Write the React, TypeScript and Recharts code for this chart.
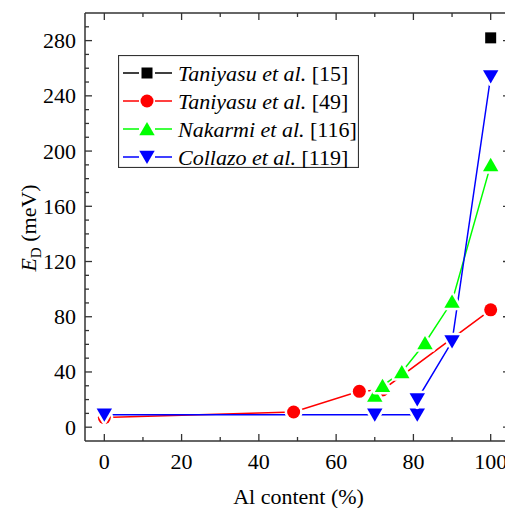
import React from 'react';
import { ComposedChart, Line, XAxis, YAxis, Legend } from 'recharts';

const taniyasu15X = [100];
const taniyasu15Y = [282];
const taniyasu49X = [0, 49, 66, 72, 100];
const taniyasu49Y = [7, 11, 26, 27, 85];
const nakarmiX = [70, 72, 77, 83, 90, 100];
const nakarmiY = [23, 30, 40, 61, 91, 190];
const collazoX = [0, 70, 81, 81, 90, 100];
const collazoY = [9, 9, 9, 20, 62, 254];

const xTicks = [0, 10, 20, 30, 40, 50, 60, 70, 80, 90, 100];
const xLabelTicks = [0, 20, 40, 60, 80, 100];
const yTicks = [0, 10, 20, 30, 40, 50, 60, 70, 80, 90, 100, 110, 120, 130, 140, 150, 160, 170, 180, 190, 200, 210, 220, 230, 240, 250, 260, 270, 280, 290];
const yLabelTicks = [0, 40, 80, 120, 160, 200, 240, 280];

const seriesNames = ['Taniyasu et al.', 'Taniyasu et al.', 'Nakarmi et al.', 'Collazo et al.'];
const seriesRefs = ['[15]', '[49]', '[116]', '[119]'];
const seriesColors = ['#000000', '#ff0000', '#00ff00', '#0000ff'];
const seriesShapes = ['square', 'circle', 'up', 'down'];

const zip = (xs: number[], ys: number[]) => xs.map((x, i) => ({ x, y: ys[i] }));
const d15 = zip(taniyasu15X, taniyasu15Y);
const d49 = zip(taniyasu49X, taniyasu49Y);
const dNak = zip(nakarmiX, nakarmiY);
const dCol = zip(collazoX, collazoY);

const FONT = 'Liberation Serif';
const AXIS = '#333333';
const FS = 22;

function markerPath(shape: string, cx: number, cy: number, s: number): string {
  if (shape === 'up') {
    return `M${cx},${cy - s * 0.5}L${cx + s * 0.55},${cy + s * 0.45}L${cx - s * 0.55},${cy + s * 0.45}Z`;
  }
  if (shape === 'down') {
    return `M${cx},${cy + s * 0.5}L${cx + s * 0.55},${cy - s * 0.45}L${cx - s * 0.55},${cy - s * 0.45}Z`;
  }
  return `M${cx - s / 2},${cy - s / 2}h${s}v${s}h${-s}Z`;
}

function Marker({ shape, cx, cy, color, halo }: any) {
  if (shape === 'circle') {
    return (
      <g>
        {halo && <circle cx={cx} cy={cy} r={6.5} fill="#fff" stroke="#fff" strokeWidth={5} />}
        <circle cx={cx} cy={cy} r={6.5} fill={color} />
      </g>
    );
  }
  const s = shape === 'square' ? 11 : 14;
  return (
    <g>
      {halo && <path d={markerPath(shape, cx, cy, s)} fill="#fff" stroke="#fff" strokeWidth={5} strokeLinejoin="round" />}
      <path d={markerPath(shape, cx, cy, s)} fill={color} />
    </g>
  );
}

const makeDot = (shape: string, color: string) => (props: any) => {
  const { cx, cy, index } = props;
  if (cx == null || cy == null) return <g key={`e-${index}`} />;
  return <Marker key={`m-${index}`} shape={shape} cx={cx} cy={cy} color={color} halo />;
};

function T(props: any) {
  const { children, ...rest } = props;
  return (
    <text fontFamily={FONT} fontSize={FS} fill="#000" {...rest}>
      {children}
    </text>
  );
}

const makeTick = (orient: string, majors: number[], showLabel: boolean) => (props: any) => {
  const { x, y, payload } = props;
  const v = payload.value;
  const major = majors.includes(v);
  const len = major ? 7 : 4;
  let line: any = null;
  let label: any = null;
  if (orient === 'bottom') {
    line = <line x1={x} y1={y} x2={x} y2={y - len} stroke={AXIS} strokeWidth={1.3} />;
    if (showLabel && major)
      label = (
        <T x={x} y={y + 28} textAnchor="middle">
          {String(v)}
        </T>
      );
  } else if (orient === 'top') {
    line = <line x1={x} y1={y} x2={x} y2={y + len} stroke={AXIS} strokeWidth={1.3} />;
  } else if (orient === 'left') {
    line = <line x1={x} y1={y} x2={x + len} y2={y} stroke={AXIS} strokeWidth={1.3} />;
    if (showLabel && major)
      label = (
        <T x={x - 9} y={y + 7.5} textAnchor="end">
          {String(v)}
        </T>
      );
  } else {
    line = <line x1={x} y1={y} x2={x - len} y2={y} stroke={AXIS} strokeWidth={1.3} />;
  }
  return (
    <g>
      {line}
      {label}
    </g>
  );
};

const renderYLabel = (p: any) => {
  const vb = p.viewBox || { x: 0, y: 13, width: 85, height: 428 };
  const cx = vb.x + 36;
  const cy = vb.y + vb.height / 2 + 1;
  return (
    <T x={cx} y={cy} transform={`rotate(-90, ${cx}, ${cy})`} textAnchor="middle">
      <tspan fontStyle="italic">E</tspan>
      <tspan fontSize={15} dy={5}>D</tspan>
      <tspan dy={-5}> (meV)</tspan>
    </T>
  );
};

const renderXLabel = (p: any) => {
  const vb = p.viewBox || { x: 85, y: 441, width: 425, height: 67 };
  return (
    <T x={vb.x + vb.width / 2 + 1} y={vb.y + 63} textAnchor="middle">
      Al content (%)
    </T>
  );
};

function LegendBox() {
  const rows = [18, 46, 74, 102];
  return (
    <svg width={241} height={113} style={{ display: 'block' }}>
      <rect x={0.5} y={0.5} width={240} height={112} fill="#fff" stroke={AXIS} strokeWidth={1.2} />
      {rows.map((ry, i) => (
        <g key={i}>
          <line x1={5} y1={ry} x2={21} y2={ry} stroke={seriesColors[i]} strokeWidth={1.5} />
          <line x1={37} y1={ry} x2={54} y2={ry} stroke={seriesColors[i]} strokeWidth={1.5} />
          <Marker shape={seriesShapes[i]} cx={29} cy={ry} color={seriesColors[i]} />
          <T x={60} y={ry + 7.5}>
            <tspan fontStyle="italic">{seriesNames[i]}</tspan>
            <tspan> {seriesRefs[i]}</tspan>
          </T>
        </g>
      ))}
    </svg>
  );
}

export default function App() {
  return (
    <div
      style={{
        position: 'fixed',
        left: 0,
        top: 0,
        width: 505,
        height: 508,
        overflow: 'hidden',
        background: '#fff',
      }}
    >
      <style>{`svg text, svg tspan { font-family: 'Liberation Serif' !important; }`}</style>
      <ComposedChart width={520} height={508} margin={{ top: 0, right: 0, bottom: 0, left: 0 }}>
        <XAxis
          xAxisId="bottom"
          dataKey="x"
          type="number"
          domain={[-5, 105]}
          allowDataOverflow
          ticks={xTicks}
          interval={0}
          orientation="bottom"
          height={67}
          tickSize={0}
          tickMargin={0}
          tickLine={false}
          axisLine={{ stroke: AXIS, strokeWidth: 1.5 }}
          tick={makeTick('bottom', xLabelTicks, true)}
          label={{ content: renderXLabel }}
        />
        <XAxis
          xAxisId="top"
          dataKey="x"
          type="number"
          domain={[-5, 105]}
          allowDataOverflow
          ticks={xTicks}
          interval={0}
          orientation="top"
          height={13}
          tickSize={0}
          tickMargin={0}
          tickLine={false}
          axisLine={{ stroke: AXIS, strokeWidth: 1.5 }}
          tick={makeTick('top', xLabelTicks, false)}
        />
        <YAxis
          yAxisId="left"
          type="number"
          domain={[-10, 300]}
          allowDataOverflow
          ticks={yTicks}
          interval={0}
          orientation="left"
          width={85}
          tickSize={0}
          tickMargin={0}
          tickLine={false}
          axisLine={{ stroke: AXIS, strokeWidth: 1.5 }}
          tick={makeTick('left', yLabelTicks, true)}
          label={{ content: renderYLabel }}
        />
        <YAxis
          yAxisId="right"
          type="number"
          domain={[-10, 300]}
          allowDataOverflow
          ticks={yTicks}
          interval={0}
          orientation="right"
          width={10}
          tickSize={0}
          tickMargin={0}
          tickLine={false}
          axisLine={{ stroke: AXIS, strokeWidth: 1.5 }}
          tick={makeTick('right', yLabelTicks, false)}
        />
        <Legend
          layout="vertical"
          align="center"
          verticalAlign="middle"
          wrapperStyle={{ left: 118, top: 55, width: 241, height: 113 }}
          content={() => <LegendBox />}
        />
        <Line
          xAxisId="top"
          yAxisId="right"
          data={d15}
          dataKey="y"
          stroke="none"
          dot={false}
          activeDot={false}
          legendType="none"
          isAnimationActive={false}
        />
        <Line
          xAxisId="bottom"
          yAxisId="left"
          data={d15}
          dataKey="y"
          name="Taniyasu [15]"
          stroke={seriesColors[0]}
          strokeWidth={1.5}
          dot={makeDot('square', seriesColors[0])}
          activeDot={false}
          isAnimationActive={false}
        />
        <Line
          xAxisId="bottom"
          yAxisId="left"
          data={d49}
          dataKey="y"
          name="Taniyasu [49]"
          stroke={seriesColors[1]}
          strokeWidth={1.5}
          dot={makeDot('circle', seriesColors[1])}
          activeDot={false}
          isAnimationActive={false}
        />
        <Line
          xAxisId="bottom"
          yAxisId="left"
          data={dNak}
          dataKey="y"
          name="Nakarmi [116]"
          stroke={seriesColors[2]}
          strokeWidth={1.5}
          dot={makeDot('up', seriesColors[2])}
          activeDot={false}
          isAnimationActive={false}
        />
        <Line
          xAxisId="bottom"
          yAxisId="left"
          data={dCol}
          dataKey="y"
          name="Collazo [119]"
          stroke={seriesColors[3]}
          strokeWidth={1.5}
          dot={makeDot('down', seriesColors[3])}
          activeDot={false}
          isAnimationActive={false}
        />
      </ComposedChart>
    </div>
  );
}
